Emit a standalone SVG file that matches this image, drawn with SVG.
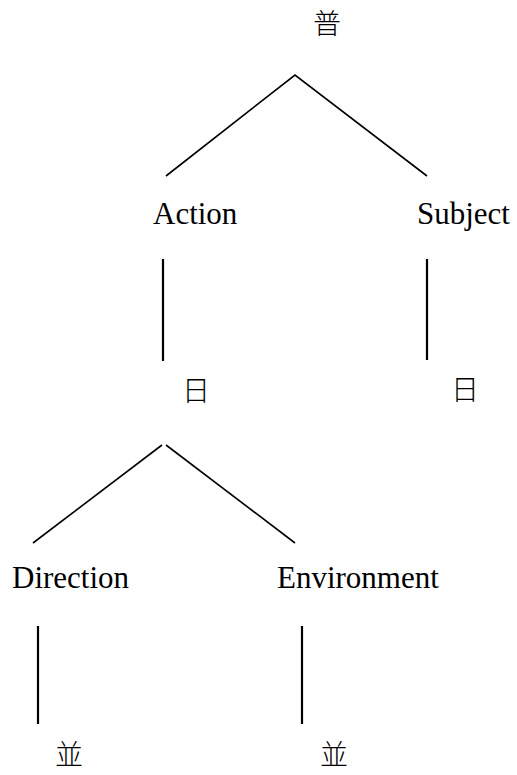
<svg xmlns="http://www.w3.org/2000/svg" width="517" height="775" viewBox="0 0 517 775">
  <style>
    .lbl { font-family: "Liberation Serif", "DejaVu Serif", "Times New Roman", serif; font-size: 31px; fill: #000; }
    .cjk { font-family: "Noto Sans CJK SC", "Noto Sans CJK JP", sans-serif; font-size: 28px; fill: #000; text-anchor: middle; font-weight: 300; }
    .edge { stroke: #000; stroke-width: 1.6; fill: none; }
    .stem { stroke: #000; stroke-width: 2.2; fill: none; }
  </style>
  <rect width="517" height="775" fill="#fff"/>

  <g id="connectors">
    <polyline class="edge" points="166,176 295,75 427,176"/>
    <line class="stem" x1="163" y1="259" x2="163" y2="361"/>
    <line class="stem" x1="427" y1="259" x2="427" y2="360"/>
    <line class="edge" x1="162" y1="445" x2="33" y2="543"/>
    <line class="edge" x1="166" y1="445" x2="295" y2="543"/>
    <line class="stem" x1="38" y1="626" x2="38" y2="724"/>
    <line class="stem" x1="302" y1="626" x2="302" y2="724"/>
  </g>

  <g id="root"><text class="cjk" x="327" y="34">普</text></g>
  <g id="action"><text class="lbl" x="153" y="224">Action</text></g>
  <g id="subject"><text class="lbl" x="417" y="224">Subject</text></g>
  <g id="action-sun"><text class="cjk" x="196" y="401">日</text></g>
  <g id="subject-sun"><text class="cjk" x="465" y="400">日</text></g>
  <g id="direction"><text class="lbl" x="12" y="588">Direction</text></g>
  <g id="environment"><text class="lbl" x="277" y="588">Environment</text></g>
  <g id="direction-leaf"><text class="cjk" x="69" y="765">並</text></g>
  <g id="environment-leaf"><text class="cjk" x="334" y="765">並</text></g>
</svg>
